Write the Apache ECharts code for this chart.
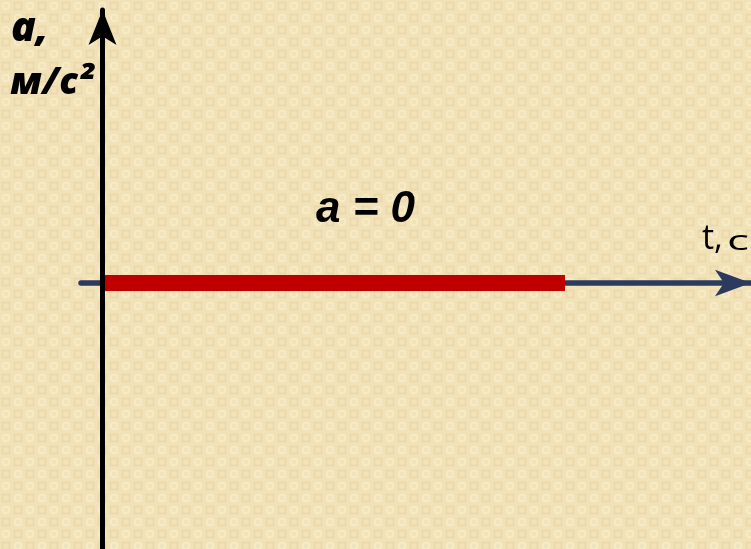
<!DOCTYPE html>
<html>
<head>
<meta charset="utf-8">
<script src="https://cdn.jsdelivr.net/npm/echarts@6/dist/echarts.min.js"></script>
<style>
html,body{margin:0;padding:0;background:#f2e2b8;}
#chart{width:751px;height:549px;}
</style>
</head>
<body>
<div id="chart"></div>
<script>
// Data
var tValues = [0, 10];          // time, s
var aValues = [0, 0];           // acceleration, m/s^2
var yAxisTitle = ['a,', 'м/с²'];
var xAxisTitle = ['t,', 'с'];
var seriesLabel = 'a = 0';

// Background texture tile
function makeTile() {
  var c = document.createElement('canvas');
  c.width = 24; c.height = 24;
  var g = c.getContext('2d');
  g.fillStyle = '#f2e2b8';
  g.fillRect(0, 0, 24, 24);
  g.lineWidth = 1.5;
  g.strokeStyle = 'rgba(255,250,225,0.45)';
  g.beginPath(); g.arc(6, 6, 3.2, 0, Math.PI * 2); g.stroke();
  g.beginPath(); g.arc(18, 18, 3.2, 0, Math.PI * 2); g.stroke();
  g.strokeStyle = 'rgba(215,190,140,0.3)';
  g.strokeRect(14.5, 2.5, 7, 7);
  g.strokeRect(2.5, 14.5, 7, 7);
  return c;
}

var chart = echarts.init(document.getElementById('chart'), null, {renderer: 'canvas'});
var data = tValues.map(function (t, i) { return [t, aValues[i]]; });

function txt(text, x, y, font, extra) {
  var el = {type: 'text', x: x, y: y, z: 100, silent: true,
    style: {text: text, font: font, fill: '#000', align: 'left', verticalAlign: 'middle'}};
  if (extra) { for (var k in extra) el[k] = extra[k]; }
  return el;
}

var option = {
  backgroundColor: {image: makeTile(), repeat: 'repeat'},
  animation: false,
  grid: {left: 81, right: 0, top: 10, bottom: 0, containLabel: false},
  xAxis: {
    type: 'value',
    min: -0.4649, max: 14.022,
    axisLine: {
      show: true, onZero: true,
      symbol: ['none', 'arrow'], symbolSize: [20, 36],
      lineStyle: {color: '#2c3a5e', width: 5.5}
    },
    axisTick: {show: false}, axisLabel: {show: false}, splitLine: {show: false}
  },
  yAxis: {
    type: 'value',
    min: -0.9744, max: 1,
    z: 10,
    axisLine: {
      show: true, onZero: true,
      symbol: ['none', 'arrow'], symbolSize: [21, 35],
      lineStyle: {color: '#000000', width: 5}
    },
    axisTick: {show: false}, axisLabel: {show: false}, splitLine: {show: false}
  },
  series: [{
    type: 'line',
    data: data,
    symbol: 'none',
    z: 3,
    lineStyle: {color: '#c00000', width: 16, cap: 'butt'}
  }],
  graphic: [
    txt(yAxisTitle[0], 11, 29, 'italic 800 41px "Open Sans", sans-serif'),
    txt(yAxisTitle[1], 10, 83, 'italic 800 37px "Open Sans", sans-serif'),
    txt(seriesLabel, 316, 210, 'italic bold 44px "Liberation Sans", sans-serif'),
    txt(xAxisTitle[0], 702, 239, '34px "Open Sans", sans-serif'),
    txt(xAxisTitle[1], 727, 242, '500 27px "Open Sans", sans-serif', {scaleX: 1.7})
  ]
};
chart.setOption(option);
</script>
</body>
</html>
